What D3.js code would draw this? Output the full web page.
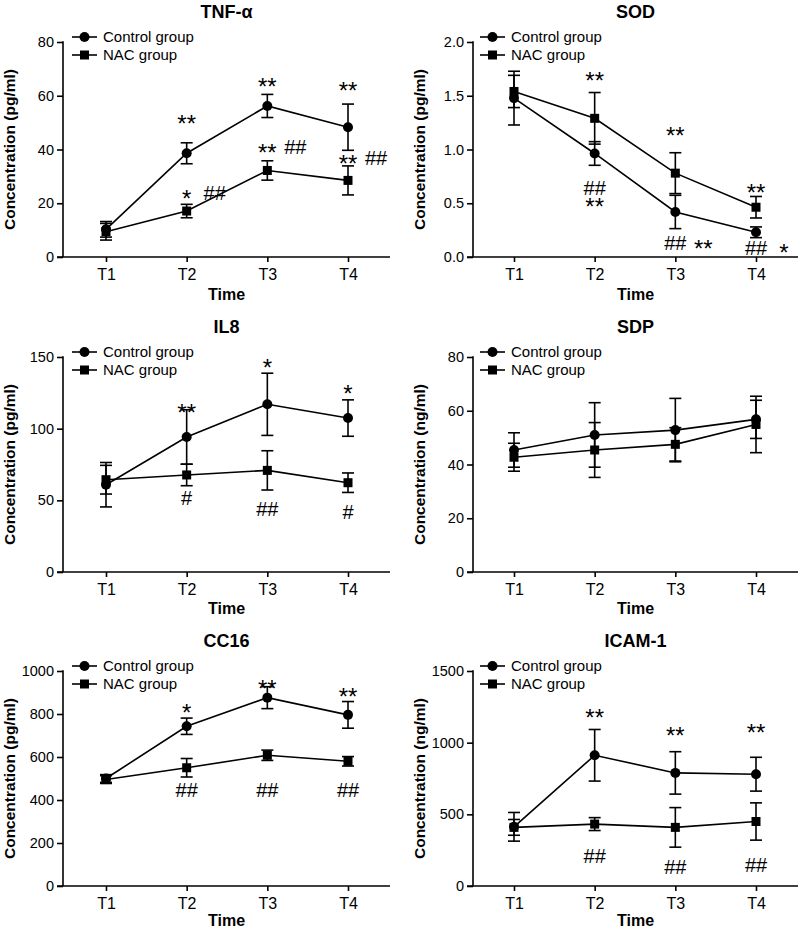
<!DOCTYPE html>
<html>
<head>
<meta charset="utf-8">
<script src="https://cdn.jsdelivr.net/npm/d3@7"></script>
<style>
  html, body { margin: 0; padding: 0; background: #fff; }
  svg { display: block; font-family: "Liberation Sans", Arial, Helvetica, sans-serif; }
</style>
</head>
<body>
<script>
// ---------------- DATA ----------------
const categories = ["T1", "T2", "T3", "T4"];
const seriesNames = ["Control group", "NAC group"];
const panelTitles = ["TNF-α", "SOD", "IL8", "SDP", "CC16", "ICAM-1"];
const yLabels = ["Concentration (pg/ml)", "Concentration (pg/ml)", "Concentration (pg/ml)",
                 "Concentration (ng/ml)", "Concentration (pg/ml)", "Concentration (ng/ml)"];
const yMax = [80, 2.0, 150, 80, 1000, 1500];
const yTicks = [
  [0, 20, 40, 60, 80],
  [0, 0.5, 1.0, 1.5, 2.0],
  [0, 50, 100, 150],
  [0, 20, 40, 60, 80],
  [0, 200, 400, 600, 800, 1000],
  [0, 500, 1000, 1500]
];
const tickFormats = ["d", ".1f", "d", "d", "d", "d"];

const controlMean = [
  [10.3, 38.6, 56.2, 48.3],
  [1.478, 0.963, 0.419, 0.230],
  [60.9, 94.2, 117.0, 107.4],
  [45.4, 51.0, 52.8, 56.8],
  [500, 743, 876, 796],
  [413, 912, 789, 780]
];
const controlSD = [
  [2.9, 3.9, 4.3, 8.6],
  [0.25, 0.11, 0.155, 0.05],
  [15.5, 19.0, 21.7, 12.7],
  [6.4, 12.0, 11.8, 7.1],
  [18, 38, 51, 62],
  [100, 180, 148, 118]
];
const nacMean = [
  [9.4, 17.1, 32.2, 28.5],
  [1.54, 1.29, 0.78, 0.463],
  [64.4, 67.7, 70.9, 62.3],
  [42.7, 45.4, 47.5, 54.9],
  [495, 550, 608, 580],
  [409, 432, 409, 450]
];
const nacSD = [
  [3.1, 2.5, 3.6, 5.4],
  [0.15, 0.24, 0.19, 0.10],
  [10, 7.5, 13.7, 6.8],
  [5.2, 10.2, 6.2, 10.5],
  [18, 43, 24, 22],
  [55, 45, 138, 130]
];

// significance marks: [category, value (data units), text, slot (0 = at category, 1 = beside)]
const annotations = [
  [["T2", 51.7, "**", 0], ["T3", 65.5, "**", 0], ["T4", 64.0, "**", 0],
   ["T3", 40.9, "**", 0], ["T3", 40.9, "##", 1],
   ["T4", 36.8, "**", 0], ["T4", 36.8, "##", 1],
   ["T2", 23.8, "*", 0], ["T2", 23.8, "##", 1]],
  [["T2", 1.693, "**", 0], ["T2", 0.642, "##", 0], ["T2", 0.521, "**", 0],
   ["T3", 1.181, "**", 0], ["T3", 0.130, "##", 0], ["T3", 0.130, "**", 1],
   ["T4", 0.651, "**", 0], ["T4", 0.084, "##", 0], ["T4", 0.093, "*", 1]],
  [["T2", 115.1, "**", 0], ["T3", 146.5, "*", 0], ["T4", 128.4, "*", 0],
   ["T2", 51.6, "#", 0], ["T3", 44.0, "##", 0], ["T4", 41.9, "#", 0]],
  [],
  [["T2", 832, "*", 0], ["T3", 944, "**", 0], ["T4", 907, "**", 0],
   ["T2", 447, "##", 0], ["T3", 447, "##", 0], ["T4", 447, "##", 0]],
  [["T2", 1214, "**", 0], ["T3", 1088, "**", 0], ["T4", 1109, "**", 0],
   ["T2", 209, "##", 0], ["T3", 133, "##", 0], ["T4", 147, "##", 0]]
];

// ---------------- LAYOUT / STYLE ----------------
const W = 800, H = 930;
const rowTop = [42, 357, 671];
const timeOffset = [37, 36, 34];
const plotH = 215;
const colAxisX = [63, 473];
const colT1 = [106, 514];
const catSpan = 242;
const axisOverhang = 42;
const legendX = [72, 480];
const stroke = 1.6;

const svg = d3.select("body").append("svg").attr("width", W).attr("height", H);

panelTitles.forEach((title, i) => {
  const col = i % 2, row = Math.floor(i / 2);
  const ax = colAxisX[col];
  const top = rowTop[row], bottom = top + plotH;
  const x = d3.scalePoint().domain(categories).range([colT1[col], colT1[col] + catSpan]);
  const axEnd = colT1[col] + catSpan + axisOverhang;
  const y = d3.scaleLinear().domain([0, yMax[i]]).range([bottom, top]);
  const g = svg.append("g");

  // Y axis
  const yAxisG = g.append("g").attr("transform", `translate(${ax},0)`)
    .call(d3.axisLeft(y).tickValues(yTicks[i]).tickSize(6).tickPadding(3)
      .tickFormat(d3.format(tickFormats[i])));
  yAxisG.select(".domain").remove();
  yAxisG.selectAll(".tick line").attr("stroke", "#000").attr("stroke-width", stroke);
  yAxisG.selectAll(".tick text").attr("font-size", 14.5).attr("fill", "#000")
    .attr("font-family", "Liberation Sans, Arial, sans-serif");
  g.append("line").attr("x1", ax).attr("x2", ax).attr("y1", top - 0.8).attr("y2", bottom)
    .attr("stroke", "#000").attr("stroke-width", stroke);

  // X axis
  const xAxisG = g.append("g").attr("transform", `translate(0,${bottom})`)
    .call(d3.axisBottom(x).tickSize(5).tickPadding(7));
  xAxisG.select(".domain").remove();
  xAxisG.selectAll(".tick line").attr("stroke", "#000").attr("stroke-width", stroke);
  xAxisG.selectAll(".tick text").attr("font-size", 16).attr("fill", "#000")
    .attr("font-family", "Liberation Sans, Arial, sans-serif");
  g.append("line").attr("x1", ax - 6).attr("x2", axEnd).attr("y1", bottom).attr("y2", bottom)
    .attr("stroke", "#000").attr("stroke-width", stroke);

  // Titles & axis labels
  g.append("text").attr("x", (ax + axEnd) / 2).attr("y", top - 30).attr("dy", "0.35em")
    .attr("text-anchor", "middle").attr("font-weight", "bold").attr("font-size", 18)
    .text(title);
  g.append("text").attr("x", (ax + axEnd) / 2).attr("y", bottom + timeOffset[row]).attr("dy", "0.35em")
    .attr("text-anchor", "middle").attr("font-weight", "bold").attr("font-size", 16)
    .text("Time");
  g.append("text")
    .attr("transform", `translate(${ax - 53},${(top + bottom) / 2}) rotate(-90)`)
    .attr("dy", "0.35em").attr("text-anchor", "middle")
    .attr("font-weight", "bold").attr("font-size", 15.5)
    .text(yLabels[i]);

  // Series
  const series = [
    { mean: controlMean[i], sd: controlSD[i], shape: "circle" },
    { mean: nacMean[i], sd: nacSD[i], shape: "square" }
  ];
  const line = d3.line().x((d, k) => x(categories[k])).y(d => y(d));
  series.forEach(s => {
    g.append("path").datum(s.mean).attr("d", line)
      .attr("fill", "none").attr("stroke", "#000").attr("stroke-width", stroke);
  });
  series.forEach(s => {
    s.mean.forEach((m, k) => {
      const cx = x(categories[k]);
      const yHi = y(m + s.sd[k]), yLo = y(Math.max(0, m - s.sd[k]));
      g.append("line").attr("x1", cx).attr("x2", cx).attr("y1", yHi).attr("y2", yLo)
        .attr("stroke", "#000").attr("stroke-width", stroke);
      [yHi, yLo].forEach(yy => {
        g.append("line").attr("x1", cx - 6).attr("x2", cx + 6).attr("y1", yy).attr("y2", yy)
          .attr("stroke", "#000").attr("stroke-width", stroke);
      });
    });
  });
  const drawMarker = (sel, shape, cx, cy) => {
    if (shape === "circle") sel.append("circle").attr("cx", cx).attr("cy", cy).attr("r", 5).attr("fill", "#000");
    else sel.append("rect").attr("x", cx - 4.5).attr("y", cy - 4.5).attr("width", 9).attr("height", 9).attr("fill", "#000");
  };
  series.forEach(s => {
    s.mean.forEach((m, k) => drawMarker(g, s.shape, x(categories[k]), y(m)));
  });

  // Legend
  seriesNames.forEach((name, k) => {
    const ly = top - 5 + k * 18;
    const lx = legendX[col];
    g.append("line").attr("x1", lx).attr("x2", lx + 25).attr("y1", ly).attr("y2", ly)
      .attr("stroke", "#000").attr("stroke-width", stroke);
    drawMarker(g, series[k].shape, lx + 12.5, ly);
    g.append("text").attr("x", lx + 31).attr("y", ly).attr("dy", "0.35em")
      .attr("font-size", 15).text(name);
  });

  // Significance marks
  annotations[i].forEach(([cat, val, txt, slot]) => {
    const isStar = txt.indexOf("*") >= 0;
    const fs = isStar ? 24 : 20;
    const cy = y(val);
    const base = cy + (isStar ? 0.57 : 0.35) * fs;
    g.append("text").attr("x", x(cat) + slot * 28).attr("y", base)
      .attr("text-anchor", "middle").attr("font-size", fs).text(txt);
  });
});
</script>
</body>
</html>
